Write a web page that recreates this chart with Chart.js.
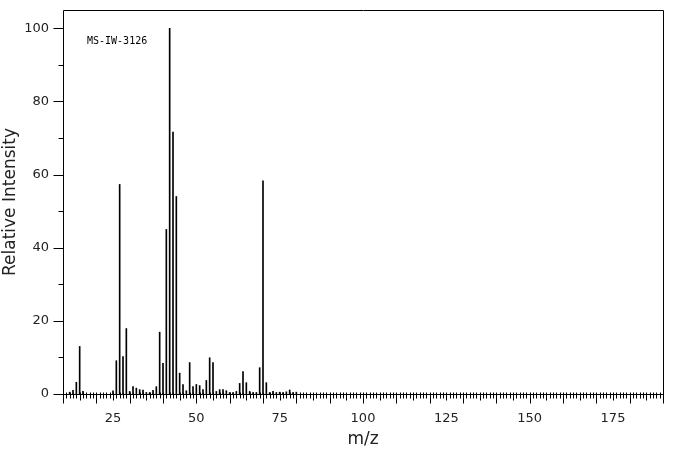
<!DOCTYPE html>
<html lang="en">
  <head>
    <meta charset="UTF-8" />
    <title>MS-IW-3126</title>
    <style>
      html, body { margin: 0; padding: 0; background: #fff; }
      #spectrum { display: block; }
    </style>
  </head>
  <body>
    <canvas id="spectrum" width="676" height="455" style="width:676px;height:455px;"></canvas>

    <script src="https://cdn.jsdelivr.net/npm/chart.js@4.4.1/dist/chart.umd.min.js"></script>
    <script>
      // spectrum id shown in the top-left corner
      var sampleId = 'MS-IW-3126';

      // peaks (m/z and relative intensity in %)
      var mz = [12, 13, 14, 15, 16, 25, 26, 27, 28, 29, 30, 31, 32, 33, 34, 35, 36, 37, 38, 39,
                40, 41, 42, 43, 44, 45, 46, 47, 48, 49, 50, 51, 52, 53, 54, 55, 56, 57, 58, 59,
                60, 61, 62, 63, 64, 65, 66, 67, 68, 69, 70, 71, 72, 73, 74, 75, 76, 77, 78, 79, 80];
      var intensity = [0.5, 1.0, 3.2, 13.0, 0.7, 0.9, 9.1, 57.3, 10.2, 17.9, 0.7, 2.0, 1.6, 1.2, 1.1, 0.4, 0.4, 1.0, 2.0, 16.9,
                       8.4, 45.0, 100, 71.6, 54.0, 5.7, 2.6, 0.9, 8.6, 2.0, 2.6, 2.3, 1.2, 3.7, 9.9, 8.6, 0.7, 1.2, 1.2, 0.9,
                       0.4, 0.4, 0.7, 2.9, 6.1, 3.1, 0.7, 0.4, 0.4, 7.2, 58.3, 3.1, 0.4, 0.7, 0.4, 0.5, 0.4, 0.6, 1.1, 0.4, 0.5];

      // axes
      var xMin = 10, xMax = 190;
      var xLabelStep = 25;
      var yMin = 0, yMax = 105;
      var yLabelStep = 20;
      var yMinorStep = 10;

      var points = [];
      for (var i = 0; i < mz.length; i++) {
        points.push({ x: mz[i], y: intensity[i] });
      }

      // frame, unit ticks on the m/z axis, minor ticks on the intensity axis, spectrum id
      var frameAndTicks = {
        id: 'frameAndTicks',
        afterDraw: function (chart) {
          var ctx = chart.ctx;
          var a = chart.chartArea;
          var x = chart.scales.x;
          var y = chart.scales.y;
          var l = Math.round(a.left) + 0.5, t = Math.round(a.top) + 0.5;
          var r = Math.round(a.right) + 0.5, b = Math.round(a.bottom) + 0.5;
          ctx.save();
          ctx.strokeStyle = '#000';
          ctx.lineWidth = 1;
          ctx.beginPath();
          ctx.moveTo(l, b); ctx.lineTo(l, t); ctx.lineTo(r, t); ctx.lineTo(r, b); ctx.lineTo(l, b);
          for (var m = xMin; m <= xMax; m++) {
            var px = Math.round(x.getPixelForValue(m)) + 0.5;
            var len = m % 10 === 0 ? 9 : (m % 5 === 0 ? 6 : 4);
            ctx.moveTo(px, b - 2);
            ctx.lineTo(px, b + len);
          }
          for (var v = yMin; v <= 100; v += yMinorStep) {
            var py = Math.round(y.getPixelForValue(v)) + 0.5;
            var ylen = v % yLabelStep === 0 ? 10 : 5;
            ctx.moveTo(l - ylen, py);
            ctx.lineTo(l, py);
          }
          ctx.stroke();
          ctx.fillStyle = '#000';
          ctx.font = '10px "DejaVu Sans Mono"';
          ctx.textBaseline = 'alphabetic';
          ctx.fillText(sampleId, a.left + 24, a.top + 34);
          ctx.restore();
        }
      };

      var ctx = document.getElementById('spectrum');
      var spectrumChart = new Chart(ctx, {
        type: 'bar',
        data: {
          datasets: [{
            label: sampleId,
            data: points,
            backgroundColor: '#000',
            borderWidth: 0,
            barThickness: 1
          }]
        },
        options: {
          responsive: false,
          animation: false,
          devicePixelRatio: 1,
          layout: { padding: { top: 10, right: 13, left: 0, bottom: 0 } },
          plugins: {
            legend: { display: false },
            tooltip: { enabled: false }
          },
          scales: {
            x: {
              type: 'linear',
              min: xMin,
              max: xMax,
              offset: false,
              grid: { display: false, drawTicks: false },
              border: { display: false },
              ticks: {
                stepSize: xLabelStep,
                includeBounds: false,
                autoSkip: false,
                maxRotation: 0,
                padding: 17,
                color: '#222',
                font: { family: 'DejaVu Sans', size: 13 }
              },
              title: {
                display: true,
                text: 'm/z',
                color: '#222',
                padding: { top: 0, bottom: 5 },
                font: { family: 'DejaVu Sans', size: 17 }
              },
              afterFit: function (scale) {
                scale.height = 61;
                scale.paddingLeft = 0;
                scale.paddingRight = 0;
              }
            },
            y: {
              min: yMin,
              max: yMax,
              grid: { display: false, drawTicks: false },
              border: { display: false },
              ticks: {
                stepSize: yLabelStep,
                includeBounds: false,
                padding: 14,
                color: '#222',
                font: { family: 'DejaVu Sans', size: 13 }
              },
              title: {
                display: true,
                text: 'Relative Intensity',
                color: '#222',
                padding: { top: 0, bottom: 0 },
                font: { family: 'DejaVu Sans', size: 17 }
              },
              afterFit: function (scale) {
                scale.width = 63;
                scale.paddingTop = 0;
                scale.paddingBottom = 0;
              }
            }
          }
        },
        plugins: [frameAndTicks]
      });
    </script>
  </body>
</html>
